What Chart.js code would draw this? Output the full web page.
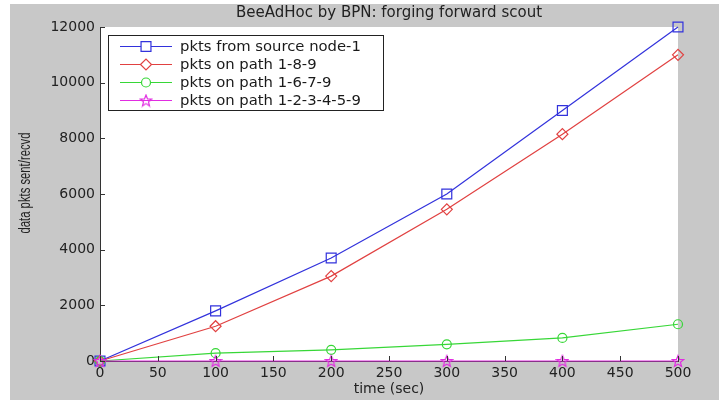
<!DOCTYPE html>
<html>
<head>
<meta charset="utf-8">
<script src="https://cdn.jsdelivr.net/npm/chart.js@4/dist/chart.umd.min.js"></script>
<style>
  html, body { margin: 0; padding: 0; background: #ffffff; }
  #wrap { width: 719px; height: 400px; position: relative; }
</style>
</head>
<body>
<div id="wrap"><canvas id="c" width="719" height="400"></canvas></div>
<script>
const timeSec = [0, 100, 200, 300, 400, 500];
const pktsSource = [0, 1800, 3700, 6000, 9000, 12000];
const pkts189 = [0, 1250, 3050, 5450, 8150, 11000];
const pkts1679 = [0, 280, 400, 600, 830, 1320];
const pkts123459 = [0, 0, 0, 0, 0, 0];
const seriesNames = ['pkts from source node-1', 'pkts on path 1-8-9', 'pkts on path 1-6-7-9', 'pkts on path 1-2-3-4-5-9'];
const titleText = 'BeeAdHoc by BPN: forging forward scout';
const xLabel = 'time (sec)';
const yLabel = 'data pkts sent/recvd';

const FONT = '"DejaVu Sans", "Liberation Sans", sans-serif';
const FONT2 = '"Liberation Sans", Arial, sans-serif';
const BLUE = 'rgb(50,50,220)';
const RED = 'rgb(225,65,65)';
const GREEN = 'rgb(55,215,55)';
const MAGENTA = 'rgb(225,45,225)';

function starImage(color) {
  const c = document.createElement('canvas');
  c.width = 14; c.height = 14;
  const g = c.getContext('2d');
  g.strokeStyle = color; g.lineWidth = 1.2;
  g.beginPath();
  for (let i = 0; i < 10; i++) {
    const r = i % 2 === 0 ? 6 : 2.6;
    const a = -Math.PI / 2 + i * Math.PI / 5;
    const px = 7 + r * Math.cos(a), py = 7.5 + r * Math.sin(a);
    if (i === 0) g.moveTo(px, py); else g.lineTo(px, py);
  }
  g.closePath(); g.stroke();
  return c;
}
const star = starImage(MAGENTA);

function mk(label, data, color, style, radius, order) {
  return {
    label, data: timeSec.map((t, i) => ({x: t, y: data[i]})),
    borderColor: color, backgroundColor: 'rgba(0,0,0,0)',
    pointBorderColor: color, pointBackgroundColor: 'rgba(0,0,0,0)',
    borderWidth: 1.2, pointBorderWidth: 1.2, pointStyle: style, pointRadius: radius,
    pointHoverRadius: radius, tension: 0, clip: false, order
  };
}

const datasets = [
  mk(seriesNames[0], pktsSource, BLUE, 'rect', 7, 3),
  mk(seriesNames[1], pkts189, RED, 'rectRot', 5.5, 2),
  mk(seriesNames[2], pkts1679, GREEN, 'circle', 4.5, 1),
  mk(seriesNames[3], pkts123459, MAGENTA, star, 6, 0)
];

const bgPlugin = {
  id: 'bg',
  beforeDraw(chart) {
    const ctx = chart.ctx, a = chart.chartArea;
    ctx.save();
    ctx.fillStyle = '#c8c8c8';
    ctx.fillRect(10, 4, chart.width - 10, chart.height - 4);
    ctx.fillStyle = '#ffffff';
    ctx.fillRect(a.left, a.top, a.right - a.left, a.bottom - a.top);
    ctx.restore();
  },
  afterDatasetsDraw(chart) {
    const ctx = chart.ctx, a = chart.chartArea;
    const xs = chart.scales.x, ys = chart.scales.y;
    ctx.save();
    ctx.strokeStyle = '#333'; ctx.lineWidth = 1;
    ctx.beginPath();
    xs.ticks.forEach(t => {
      const px = Math.round(xs.getPixelForValue(t.value)) + 0.5;
      ctx.moveTo(px, a.bottom); ctx.lineTo(px, a.bottom - 5);
    });
    ys.ticks.forEach(t => {
      const py = Math.round(ys.getPixelForValue(t.value)) + 0.5;
      ctx.moveTo(a.left, py); ctx.lineTo(a.left + 5, py);
    });
    ctx.stroke();
    ctx.fillStyle = '#222';
    ctx.font = '12px ' + FONT2;
    ctx.textAlign = 'center'; ctx.textBaseline = 'middle';
    ctx.translate(26, 183);
    ctx.rotate(-Math.PI / 2);
    ctx.scale(0.94, 1.3);
    ctx.fillText(yLabel, 0, 0);
    ctx.restore();
  },
  afterDraw(chart) {
    const ctx = chart.ctx;
    const L = 108, T = 35, R = 383, B = 110;
    ctx.save();
    ctx.fillStyle = '#fff';
    ctx.fillRect(L, T, R - L, B - T);
    ctx.strokeStyle = '#222'; ctx.lineWidth = 1;
    ctx.strokeRect(L + 0.5, T + 0.5, R - L, B - T);
    const rows = [46, 64, 82, 100];
    chart.data.datasets.forEach((ds, i) => {
      const y = rows[i];
      ctx.strokeStyle = ds.borderColor; ctx.lineWidth = 1.2;
      ctx.beginPath(); ctx.moveTo(120, y + 0.5); ctx.lineTo(172, y + 0.5); ctx.stroke();
      ctx.fillStyle = '#fff';
      Chart.helpers.drawPoint(ctx, {pointStyle: ds.pointStyle, radius: ds.pointRadius, rotation: 0, borderWidth: 1.2}, 146, y + 0.5);
      ctx.fillStyle = '#1a1a1a';
      ctx.font = '14.8px ' + FONT;
      ctx.textAlign = 'left'; ctx.textBaseline = 'middle';
      ctx.fillText(ds.label, 180, y + 1);
    });
    ctx.restore();
  }
};

new Chart(document.getElementById('c'), {
  type: 'line',
  data: { datasets },
  options: {
    responsive: false, animation: false,
    layout: { padding: { left: 10, right: 41, top: 0, bottom: 0 } },
    plugins: {
      legend: { display: false },
      tooltip: { enabled: false },
      title: {
        display: true, text: titleText, color: '#222', fullSize: false,
        font: { family: FONT, size: 15, weight: 'normal', lineHeight: 1.2 },
        padding: { top: 4, bottom: 5 }
      }
    },
    scales: {
      x: {
        type: 'linear', min: 0, max: 500,
        ticks: { stepSize: 50, color: '#222', padding: 4, font: { family: FONT, size: 14 }, maxRotation: 0, autoSkip: false },
        grid: { display: false, drawTicks: false },
        border: { display: true, color: '#333', width: 1 },
        title: { display: true, text: xLabel, color: '#222', font: { family: FONT, size: 14 }, padding: { top: 2, bottom: 2 } },
        afterFit(s) { s.height = 39; }
      },
      y: {
        type: 'linear', min: 0, max: 12000,
        ticks: { stepSize: 2000, color: '#222', padding: 5, font: { family: FONT, size: 14 },
                 callback: v => String(v) },
        grid: { display: false, drawTicks: false },
        border: { display: true, color: '#333', width: 1 },
        afterFit(s) { s.width = 90; }
      }
    }
  },
  plugins: [bgPlugin]
});
</script>
</body>
</html>
